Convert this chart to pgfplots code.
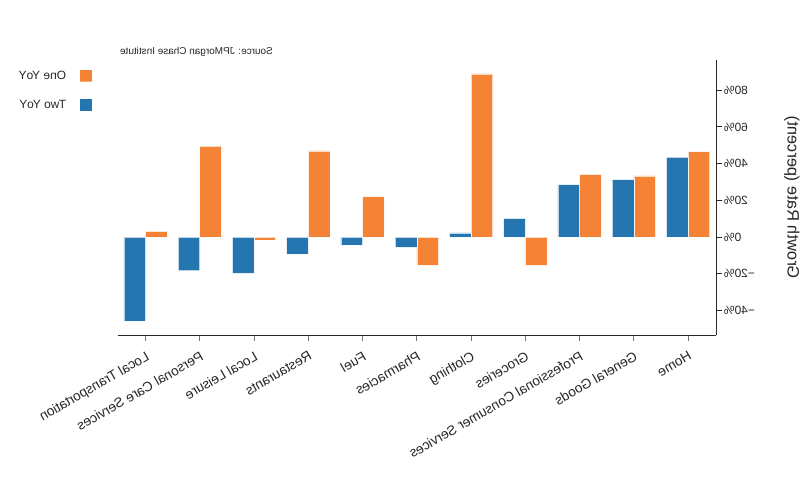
\documentclass[border=0pt]{standalone}
\usepackage{graphicx}
\usepackage{pgfplots}
\pgfplotsset{compat=1.18}
\usepackage{fontspec}
\setmainfont{Liberation Sans}
\definecolor{barblue}{RGB}{37,117,176}
\definecolor{barorange}{RGB}{245,131,53}
\definecolor{axisgray}{RGB}{40,40,40}
\begin{document}
\reflectbox{%
\begin{tikzpicture}[x=1bp,y=1bp]
\useasboundingbox (0,0) rectangle (800,500);
\begin{axis}[
  at={(83.7bp,165bp)}, anchor=south west, scale only axis,
  width=597.9bp, height=275bp,
  xmin=-0.52, xmax=10.5,
  ymin=-53.4, ymax=96.5,
  axis x line*=bottom, axis y line*=left,
  axis line style={axisgray, line width=0.9bp},
  tick align=outside,
  major tick length=6bp,
  xtick={0,1,2,3,4,5,6,7,8,9,10},
  xticklabels={Home,General Goods,Professional Consumer Services,Groceries,Clothing,Pharmacies,Fuel,Restaurants,Local Leisure,Personal Care Services,Local Transportation},
  ytick={-40,-20,0,20,40,60,80},
  yticklabels={−40\%,−20\%,0\%,20\%,40\%,60\%,80\%},
  y tick label style={font=\fontsize{12}{14}\selectfont, text=black!85, inner sep=1.5bp},
  x tick style={black!55, line width=0.9bp},
  y tick style={axisgray, line width=0.9bp},
  x tick label style={font=\fontsize{13.7}{15}\selectfont, text=black!85, rotate=-30, anchor=north west, inner sep=1bp, xshift=4bp, yshift=-7bp},
  ylabel={Growth Rate (percent)},
  ylabel style={at={(axis description cs:-0.1266,0.5)}, anchor=center, font=\fontsize{16.5}{18}\selectfont, text=black!85},
  legend style={at={(axis description cs:1.039,0.973)}, anchor=north west, draw=none, fill=none,
    font=\fontsize{12}{14}\selectfont, row sep=17bp, column sep=0bp,
    nodes={inner sep=0pt, anchor=west, text=black!85}},
  legend cell align=left,
]
\addplot[ybar, bar width=0.4, bar shift=-0.2, fill=barorange, draw=white, line width=0.6bp, draw opacity=0.7,
  legend image code/.code={\fill[barorange] (0bp,-5.75bp) rectangle (11.7bp,5.75bp); \path (25.2bp,0bp);}]
coordinates {(0,46.5) (1,33.3) (2,34.2) (3,-15.5) (4,88.9) (5,-15.5) (6,22.0) (7,46.9) (8,-1.6) (9,49.6) (10,3.1)};
\addlegendentry{One YoY}
\addplot[ybar, bar width=0.4, bar shift=0.2, fill=barblue, draw=white, line width=0.6bp, draw opacity=0.7,
  legend image code/.code={\fill[barblue] (0bp,-5.75bp) rectangle (11.7bp,5.75bp); \path (25.2bp,0bp);}]
coordinates {(0,43.5) (1,31.3) (2,28.5) (3,10.2) (4,2.2) (5,-5.6) (6,-4.4) (7,-9.3) (8,-19.8) (9,-18.4) (10,-45.8)};
\addlegendentry{Two YoY}
\end{axis}
\node[anchor=west, inner sep=0pt, font=\fontsize{10}{12}\selectfont, text=black!85] at (527,448.5) {Source: JPMorgan Chase Institute};
\end{tikzpicture}%
}
\end{document}
